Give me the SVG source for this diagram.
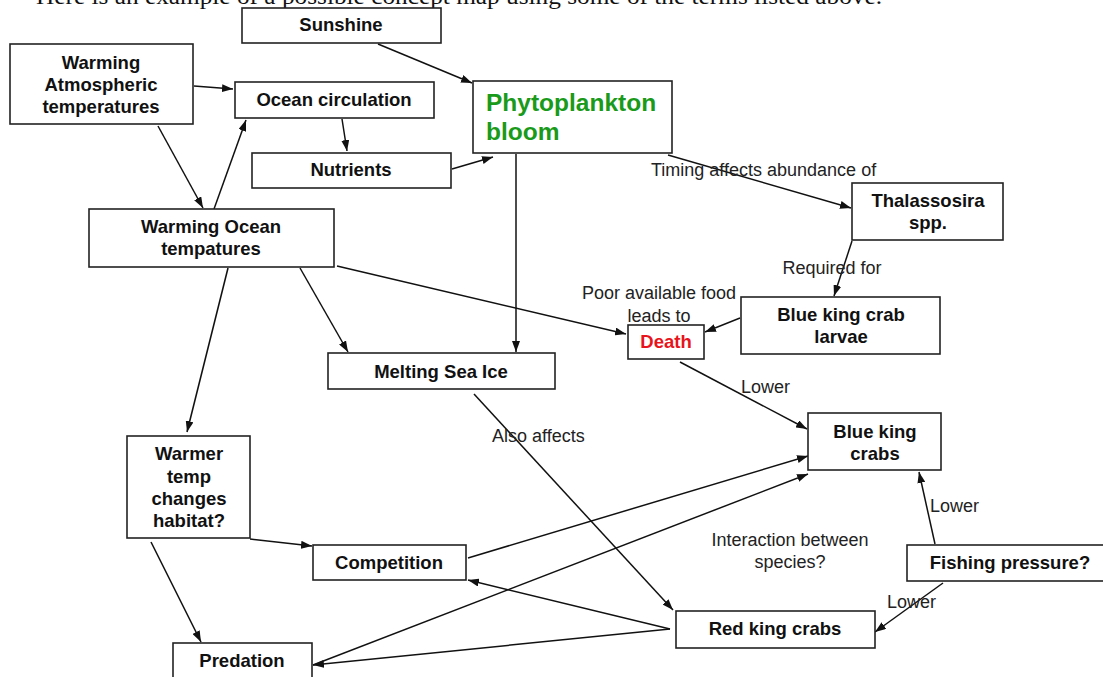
<svg xmlns="http://www.w3.org/2000/svg" width="1103" height="677" viewBox="0 0 1103 677">
<style>
.box{fill:#fff;stroke:#222;stroke-width:1.6}
.t{font-family:"Liberation Sans",Arial,sans-serif;font-size:18.5px;font-weight:bold;fill:#111;text-anchor:middle}
.l{font-family:"Liberation Sans",Arial,sans-serif;font-size:18px;fill:#222}
.lm{text-anchor:middle}
.c line{stroke:#111;stroke-width:1.5}
.a{marker-end:url(#arr)}
</style>
<defs>
<marker id="arr" markerUnits="userSpaceOnUse" markerWidth="11" markerHeight="8" refX="11" refY="4" orient="auto">
<path d="M0,0 L11,4 L0,8 z" fill="#111"/>
</marker>
</defs>
<rect width="1103" height="677" fill="#fff"/>
<text x="36" y="3.5" font-family="'Liberation Serif','Times New Roman',serif" font-size="22.5" fill="#111" textLength="846" lengthAdjust="spacingAndGlyphs">Here is an example of a possible concept map using some of the terms listed above.</text>

<g class="c" id="connectors">
<line class="a" x1="378" y1="44" x2="472" y2="83"/>
<line class="a" x1="194" y1="86" x2="233" y2="89"/>
<line class="a" x1="342" y1="119" x2="347" y2="151"/>
<line class="a" x1="452" y1="169" x2="493" y2="157"/>
<line class="a" x1="158" y1="126" x2="203" y2="208"/>
<line class="a" x1="214" y1="209" x2="246" y2="120"/>
<line class="a" x1="516" y1="154" x2="516" y2="352"/>
<line class="a" x1="668" y1="155" x2="851" y2="208"/>
<line class="a" x1="852" y1="241" x2="834" y2="296"/>
<line class="a" x1="740" y1="318" x2="705" y2="332"/>
<line class="a" x1="337" y1="266" x2="626" y2="334"/>
<line class="a" x1="680" y1="362" x2="807" y2="429"/>
<line class="a" x1="300" y1="268" x2="348" y2="352"/>
<line class="a" x1="228" y1="268" x2="187" y2="432"/>
<line class="a" x1="474" y1="394" x2="673" y2="610"/>
<line class="a" x1="250" y1="539" x2="312" y2="546"/>
<line class="a" x1="151" y1="542" x2="201" y2="642"/>
<line class="a" x1="468" y1="558" x2="808" y2="456"/>
<line class="a" x1="313" y1="665" x2="808" y2="474"/>
<line class="a" x1="670" y1="629" x2="468" y2="580"/>
<line class="a" x1="670" y1="629" x2="313" y2="665"/>
<line class="a" x1="935" y1="544" x2="919" y2="472"/>
<line class="a" x1="943" y1="583" x2="875" y2="632"/>
</g>

<g id="labels">
<text class="l" x="651" y="176">Timing affects abundance of</text>
<text class="l lm" x="832" y="274">Required for</text>
<text class="l lm" x="659" y="299">Poor available food</text>
<text class="l lm" x="659" y="322">leads to</text>
<text class="l" x="741" y="393">Lower</text>
<text class="l" x="492" y="442">Also affects</text>
<text class="l lm" x="790" y="546">Interaction between</text>
<text class="l lm" x="790" y="568">species?</text>
<text class="l" x="930" y="512">Lower</text>
<text class="l" x="887" y="608">Lower</text>
</g>

<g id="n-sunshine"><rect class="box" x="242" y="8" width="199" height="35"/><text class="t" x="341" y="31">Sunshine</text></g>
<g id="n-warm-atm"><rect class="box" x="10" y="44" width="183" height="80"/><text class="t" x="101" y="69">Warming</text><text class="t" x="101" y="91">Atmospheric</text><text class="t" x="101" y="113">temperatures</text></g>
<g id="n-ocean-circ"><rect class="box" x="235" y="82" width="199" height="36"/><text class="t" x="334" y="106">Ocean circulation</text></g>
<g id="n-nutrients"><rect class="box" x="252" y="153" width="199" height="35"/><text class="t" x="351" y="176">Nutrients</text></g>
<g id="n-phyto"><rect class="box" x="473" y="81" width="199" height="72"/><text x="486" y="111" font-family="'Liberation Sans',Arial,sans-serif" font-size="24.5" font-weight="bold" fill="#1a9a1a">Phytoplankton</text><text x="486" y="140" font-family="'Liberation Sans',Arial,sans-serif" font-size="24.5" font-weight="bold" fill="#1a9a1a">bloom</text></g>
<g id="n-warm-ocean"><rect class="box" x="89" y="209" width="245" height="58"/><text class="t" x="211" y="233">Warming Ocean</text><text class="t" x="211" y="255">tempatures</text></g>
<g id="n-thal"><rect class="box" x="852" y="183" width="151" height="57"/><text class="t" x="928" y="207">Thalassosira</text><text class="t" x="928" y="229">spp.</text></g>
<g id="n-larvae"><rect class="box" x="741" y="297" width="199" height="57"/><text class="t" x="841" y="321">Blue king crab</text><text class="t" x="841" y="343">larvae</text></g>
<g id="n-death"><rect class="box" x="628" y="325" width="76" height="34"/><text class="t" x="666" y="348" fill="#e8141b" style="fill:#e8141b">Death</text></g>
<g id="n-ice"><rect class="box" x="328" y="353" width="227" height="36"/><text class="t" x="441" y="378">Melting Sea Ice</text></g>
<g id="n-blue"><rect class="box" x="808" y="413" width="133" height="57"/><text class="t" x="875" y="438">Blue king</text><text class="t" x="875" y="460">crabs</text></g>
<g id="n-habitat"><rect class="box" x="127" y="436" width="123" height="102"/><text class="t" x="189" y="460">Warmer</text><text class="t" x="189" y="483">temp</text><text class="t" x="189" y="505">changes</text><text class="t" x="189" y="527">habitat?</text></g>
<g id="n-competition"><rect class="box" x="313" y="545" width="153" height="35"/><text class="t" x="389" y="569">Competition</text></g>
<g id="n-fishing"><rect class="box" x="907" y="545" width="200" height="36"/><text class="t" x="1010" y="569">Fishing pressure?</text></g>
<g id="n-red"><rect class="box" x="676" y="611" width="199" height="37"/><text class="t" x="775" y="635">Red king crabs</text></g>
<g id="n-predation"><rect class="box" x="173" y="643" width="139" height="40"/><text class="t" x="242" y="667">Predation</text></g>
</svg>
